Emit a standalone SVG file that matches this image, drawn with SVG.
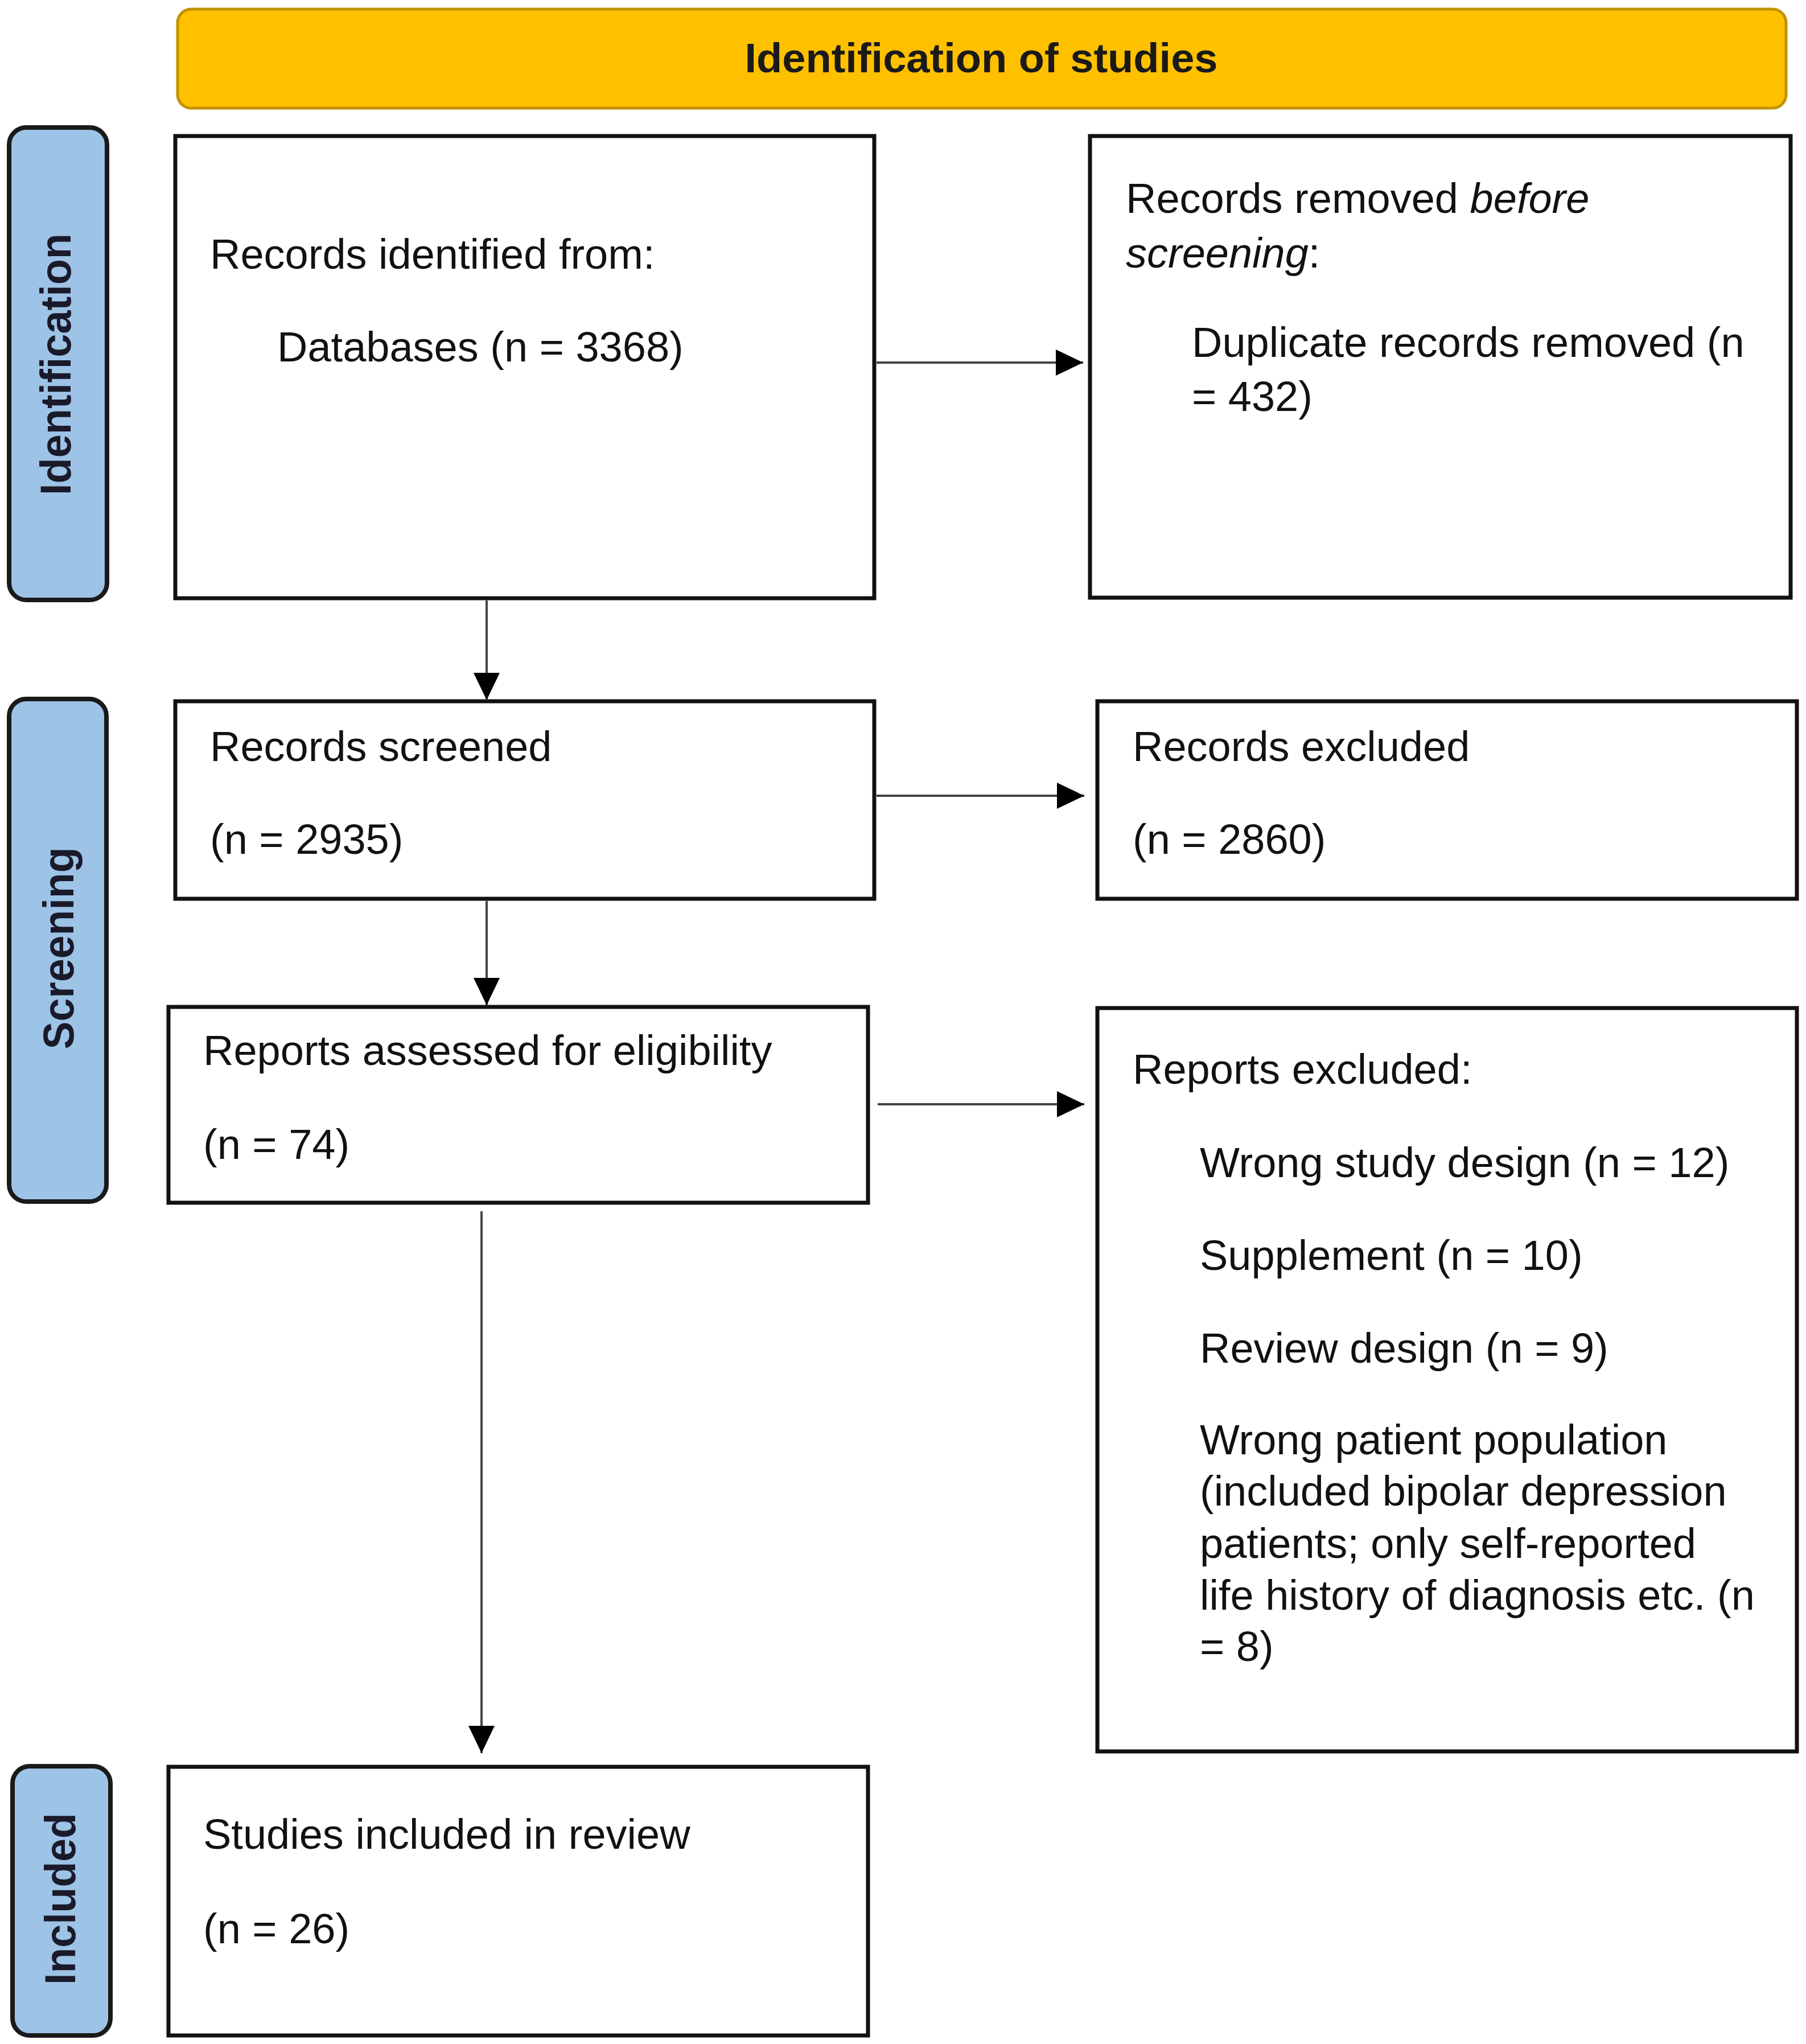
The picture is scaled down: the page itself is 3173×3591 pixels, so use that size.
<svg xmlns="http://www.w3.org/2000/svg" width="3173" height="3591" viewBox="0 0 3173 3591">
<style>
.box{fill:#ffffff;stroke:#111111;stroke-width:7}
.lab{fill:#9dc3e6;stroke:#1a1a1a;stroke-width:8}
.ban{fill:#ffc000;stroke:#c29200;stroke-width:5}
.t{font-family:"Liberation Sans",Arial,Helvetica,sans-serif;font-size:74px;fill:#111111}
.lt{font-family:"Liberation Sans",Arial,Helvetica,sans-serif;font-size:76px;font-weight:bold;fill:#1a1a2a;text-anchor:middle}
.bt{font-family:"Liberation Sans",Arial,Helvetica,sans-serif;font-size:72px;font-weight:bold;fill:#1a1a1a;text-anchor:middle}
.c{stroke:#444444;stroke-width:4;fill:none;marker-end:url(#ah)}
</style>
<defs>
<marker id="ah" markerUnits="userSpaceOnUse" markerWidth="48" markerHeight="46" refX="48" refY="23" orient="auto">
<path d="M0,0 L48,23 L0,46 z" fill="#000000"/>
</marker>
</defs>
<rect width="3173" height="3591" fill="#ffffff"/>
<g id="banner">
<rect class="ban" x="312" y="16" width="2826" height="174" rx="24"/>
<text class="bt" x="1724" y="127" textLength="831" lengthAdjust="spacingAndGlyphs">Identification of studies</text>
</g>
<g id="label-identification">
<rect class="lab" x="16" y="224" width="172" height="830" rx="30"/>
<text class="lt" transform="translate(124,640) rotate(-90)" textLength="460" lengthAdjust="spacingAndGlyphs">Identification</text>
</g>
<g id="label-screening">
<rect class="lab" x="16" y="1228" width="171" height="883" rx="30"/>
<text class="lt" transform="translate(129,1666) rotate(-90)" textLength="355" lengthAdjust="spacingAndGlyphs">Screening</text>
</g>
<g id="label-included">
<rect class="lab" x="22" y="3103" width="172" height="473" rx="30"/>
<text class="lt" transform="translate(132,3336) rotate(-90)" textLength="302" lengthAdjust="spacingAndGlyphs">Included</text>
</g>
<g id="records-identified">
<rect class="box" x="308" y="239" width="1228" height="812"/>
<text class="t" x="369" y="472">Records identified from:</text>
<text class="t" x="487" y="635">Databases (n = 3368)</text>
</g>
<g id="records-removed">
<rect class="box" x="1915" y="239" width="1231" height="811"/>
<text class="t" x="1978" y="374">Records removed <tspan font-style="italic">before</tspan></text>
<text class="t" x="1978" y="470"><tspan font-style="italic">screening</tspan>:</text>
<text class="t" x="2094" y="627">Duplicate records removed (n</text>
<text class="t" x="2094" y="722">= 432)</text>
</g>
<g id="records-screened">
<rect class="box" x="308" y="1232" width="1228" height="347"/>
<text class="t" x="369" y="1337">Records screened</text>
<text class="t" x="369" y="1500">(n = 2935)</text>
</g>
<g id="records-excluded">
<rect class="box" x="1928" y="1232" width="1229" height="347"/>
<text class="t" x="1990" y="1337">Records excluded</text>
<text class="t" x="1990" y="1500">(n = 2860)</text>
</g>
<g id="reports-assessed">
<rect class="box" x="296" y="1769" width="1229" height="344"/>
<text class="t" x="357" y="1871">Reports assessed for eligibility</text>
<text class="t" x="357" y="2036">(n = 74)</text>
</g>
<g id="reports-excluded">
<rect class="box" x="1928" y="1771" width="1229" height="1306"/>
<text class="t" x="1990" y="1904">Reports excluded:</text>
<text class="t" x="2108" y="2068">Wrong study design (n = 12)</text>
<text class="t" x="2108" y="2231">Supplement (n = 10)</text>
<text class="t" x="2108" y="2394">Review design (n = 9)</text>
<text class="t" x="2108" y="2555">Wrong patient population</text>
<text class="t" x="2108" y="2645">(included bipolar depression</text>
<text class="t" x="2108" y="2737">patients; only self-reported</text>
<text class="t" x="2108" y="2828">life history of diagnosis etc. (n</text>
<text class="t" x="2108" y="2918">= 8)</text>
</g>
<g id="studies-included">
<rect class="box" x="296" y="3104" width="1229" height="472"/>
<text class="t" x="357" y="3248">Studies included in review</text>
<text class="t" x="357" y="3414">(n = 26)</text>
</g>
<g id="connectors">
<line class="c" x1="1540" y1="637" x2="1903" y2="637"/>
<line class="c" x1="855" y1="1055" x2="855" y2="1230"/>
<line class="c" x1="1540" y1="1398" x2="1905" y2="1398"/>
<line class="c" x1="855" y1="1583" x2="855" y2="1766"/>
<line class="c" x1="1542" y1="1940" x2="1905" y2="1940"/>
<line class="c" x1="846" y1="2128" x2="846" y2="3080"/>
</g>
</svg>
